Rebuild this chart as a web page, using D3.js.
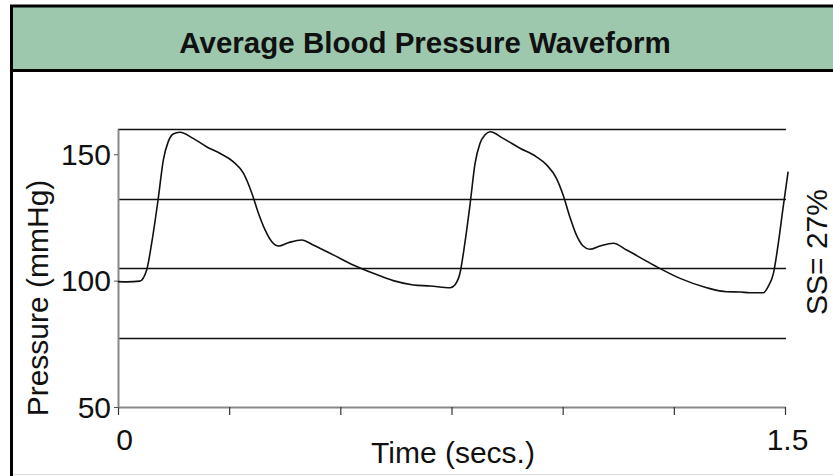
<!DOCTYPE html>
<html>
<head>
<meta charset="utf-8">
<script src="https://cdn.jsdelivr.net/npm/d3@7"></script>
<style>
  body { margin: 0; background: #fff; }
  svg text { font-family: "Liberation Sans", Arial, sans-serif; }
</style>
</head>
<body>
<div id="chart"></div>
<script>
// Waveform: time (s) and pressure (mmHg)
const timeSecs = [
  0, 0.02, 0.049, 0.0645, 0.0757, 0.0906, 0.1019, 0.113, 0.124, 0.139,
  0.169, 0.199, 0.229, 0.259, 0.282, 0.301, 0.316, 0.331, 0.346, 0.361,
  0.383, 0.413, 0.439, 0.484, 0.529, 0.574, 0.619, 0.664, 0.702, 0.747,
  0.758, 0.769, 0.780, 0.792, 0.803, 0.814, 0.825, 0.837, 0.866, 0.904,
  0.941, 0.964, 0.986, 1.001, 1.016, 1.031, 1.046, 1.061, 1.084, 1.114,
  1.144, 1.204, 1.264, 1.324, 1.369, 1.399, 1.421, 1.451, 1.462, 1.474,
  1.485, 1.495, 1.507
];
const pressure = [
  99.6, 99.5, 99.8, 104.2, 114.8, 132.6, 147.7, 155, 158, 158.7,
  156.3, 153, 150.4, 147.1, 142.5, 134.6, 126.6, 120, 115.4, 113.7,
  115, 116.1, 114.1, 110.2, 106.2, 102.9, 100, 98.3, 97.9, 97.2,
  98.4, 102.9, 114.8, 130.6, 146.4, 154.3, 157.6, 158.9, 156.3, 152.4,
  149, 145.8, 140.5, 133.9, 125.3, 118, 113.7, 112.4, 113.7, 114.8,
  112.1, 106.2, 100.9, 97.2, 95.6, 95.5, 95.2, 95.2, 97.6, 102.9,
  114.8, 128, 143.1
];

const xTicks = [0, 0.25, 0.5, 0.75, 1, 1.25, 1.5];
const xTickLabels = { 0: "0", 1.5: "1.5" };
const yTicks = [50, 100, 150];
const gridLevels = [77.5, 105, 132.5, 160];

const titleText = "Average Blood Pressure Waveform";
const xLabel = "Time (secs.)";
const yLabel = "Pressure (mmHg)";
const sideNote = "SS= 27%";

const width = 833, height = 476;
const plot = { left: 118, right: 785, top: 129, bottom: 407 };

const svg = d3.select("#chart")
  .append("svg")
  .attr("width", width)
  .attr("height", height);

// frame and green header
svg.append("rect")
  .attr("x", 12).attr("y", 6)
  .attr("width", width - 12).attr("height", 64)
  .attr("fill", "#9dc8ae");

svg.append("line")
  .attr("x1", 11.5).attr("x2", 11.5).attr("y1", 5).attr("y2", height)
  .attr("stroke", "#000").attr("stroke-width", 3);
svg.append("line")
  .attr("x1", 10).attr("x2", width).attr("y1", 6).attr("y2", 6)
  .attr("stroke", "#000").attr("stroke-width", 3);
svg.append("line")
  .attr("x1", 10).attr("x2", width).attr("y1", 70.5).attr("y2", 70.5)
  .attr("stroke", "#000").attr("stroke-width", 3);
svg.append("line")
  .attr("x1", 13).attr("x2", width).attr("y1", 474.5).attr("y2", 474.5)
  .attr("stroke", "#ddd").attr("stroke-width", 1);

svg.append("text")
  .attr("x", 425).attr("y", 53)
  .attr("text-anchor", "middle")
  .attr("font-size", "29.5px")
  .attr("font-weight", "bold")
  .attr("fill", "#111")
  .text(titleText);

// scales
const x = d3.scaleLinear().domain([0, 1.5]).range([plot.left, plot.right]);
const y = d3.scaleLinear().domain([50, 160]).range([plot.bottom, plot.top]);

// horizontal grid lines
svg.append("g")
  .selectAll("line")
  .data(gridLevels)
  .join("line")
  .attr("x1", plot.left)
  .attr("x2", plot.right + 1)
  .attr("y1", (d) => Math.round(y(d)) + 0.5)
  .attr("y2", (d) => Math.round(y(d)) + 0.5)
  .attr("stroke", "#111")
  .attr("stroke-width", 1.6);

// x axis
const xAxis = svg.append("g")
  .attr("transform", `translate(0,${plot.bottom})`)
  .call(
    d3.axisBottom(x)
      .tickValues(xTicks)
      .tickSizeInner(8)
      .tickSizeOuter(0)
      .tickPadding(14)
      .tickFormat((d) => xTickLabels[d] || "")
  );
xAxis.select(".domain").attr("stroke", "#888").attr("stroke-width", 2);
xAxis.selectAll(".tick line").attr("stroke", "#333").attr("stroke-width", 1.2);
xAxis.selectAll(".tick text")
  .attr("font-size", "30px")
  .attr("fill", "#111")
  .attr("dx", (d) => (d === 0 ? 6 : 2));

// y axis
const yAxis = svg.append("g")
  .attr("transform", `translate(${plot.left},0)`)
  .call(
    d3.axisLeft(y)
      .tickValues(yTicks)
      .tickSizeInner(4)
      .tickSizeOuter(0)
      .tickPadding(3)
      .tickFormat(d3.format("d"))
  );
yAxis.select(".domain").attr("stroke", "#888").attr("stroke-width", 2);
yAxis.selectAll(".tick line").attr("stroke", "#555");
yAxis.selectAll(".tick text")
  .attr("font-size", "30px")
  .attr("fill", "#111")
  .attr("dy", "0.34em");

// waveform
const points = timeSecs.map((t, i) => [t, pressure[i]]);
const line = d3.line()
  .x((d) => x(d[0]))
  .y((d) => y(d[1]))
  .curve(d3.curveMonotoneX);

svg.append("path")
  .datum(points)
  .attr("d", line)
  .attr("fill", "none")
  .attr("stroke", "#111")
  .attr("stroke-width", 1.6);

// axis titles
svg.append("text")
  .attr("transform", "translate(48,298) rotate(-90)")
  .attr("text-anchor", "middle")
  .attr("font-size", "30px")
  .attr("fill", "#111")
  .text(yLabel);

svg.append("text")
  .attr("x", 453).attr("y", 463)
  .attr("text-anchor", "middle")
  .attr("font-size", "30px")
  .attr("fill", "#111")
  .text(xLabel);

svg.append("text")
  .attr("transform", "translate(827,252) rotate(-90)")
  .attr("text-anchor", "middle")
  .attr("font-size", "30px")
  .attr("fill", "#111")
  .text(sideNote);
</script>
</body>
</html>
